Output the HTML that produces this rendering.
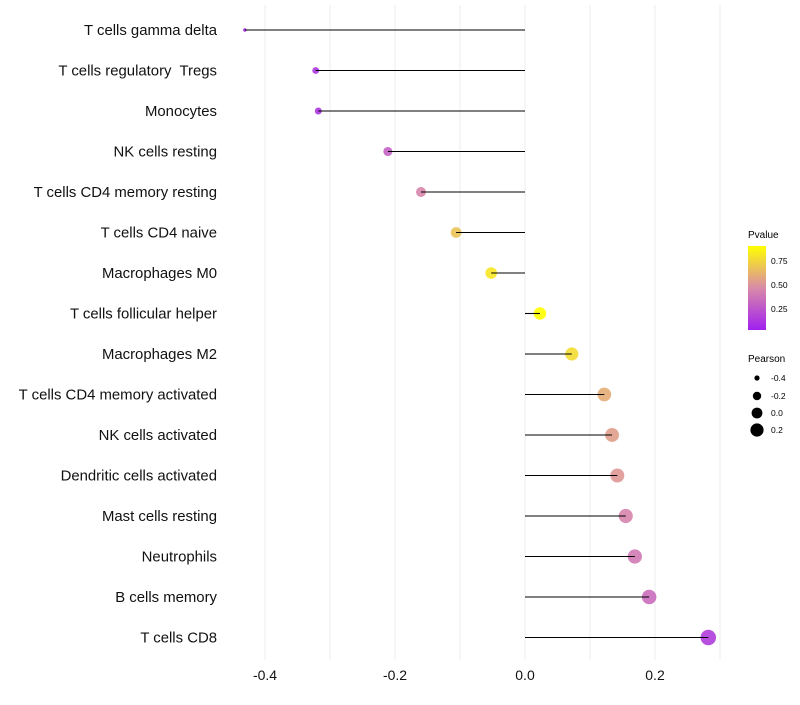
<!DOCTYPE html>
<html><head><meta charset="utf-8"><style>
body{margin:0;background:#fff;font-family:"Liberation Sans",sans-serif}
text{white-space:pre}
</style></head><body>
<svg id="chart" width="800" height="700" xmlns="http://www.w3.org/2000/svg">
<defs><linearGradient id="pg" x1="0" y1="1" x2="0" y2="0">
<stop offset="0" stop-color="#A020F0"/><stop offset="0.5" stop-color="#D98AA8"/><stop offset="1" stop-color="#FFFF00"/></linearGradient></defs>
<g id="grid"></g>
<g id="marks"></g>
<g id="ylab"></g>
<g id="xlab"></g>
<g font-size="10">
<text x="748" y="238">Pvalue</text>
<rect x="748" y="246" width="18" height="84" fill="url(#pg)"/>
<g font-size="8.5"><text x="771" y="264">0.75</text><text x="771" y="288">0.50</text><text x="771" y="312">0.25</text></g>
</g>
<g font-size="10">
<text x="748" y="362">Pearson</text>
<g font-size="8.5"><circle cx="757" cy="378" r="2.6"/><text x="771" y="381">-0.4</text>
<circle cx="757" cy="396" r="4.2"/><text x="771" y="399">-0.2</text>
<circle cx="757" cy="413" r="5.4"/><text x="771" y="416">0.0</text>
<circle cx="757" cy="430" r="6.6"/><text x="771" y="433">0.2</text></g>
</g>
</svg>
<script>
const cells=["T cells gamma delta","T cells regulatory  Tregs","Monocytes","NK cells resting","T cells CD4 memory resting","T cells CD4 naive","Macrophages M0","T cells follicular helper","Macrophages M2","T cells CD4 memory activated","NK cells activated","Dendritic cells activated","Mast cells resting","Neutrophils","B cells memory","T cells CD8"];
const pearson=[-0.431,-0.322,-0.318,-0.211,-0.160,-0.106,-0.052,0.023,0.072,0.122,0.134,0.142,0.155,0.169,0.191,0.282];
const pvalue=[0.05,0.12,0.12,0.3,0.45,0.68,0.82,0.91,0.78,0.6,0.55,0.52,0.45,0.4,0.35,0.15];
const xticks=[-0.4,-0.2,0.0,0.2];
const xs=v=>525+v*650, ys=i=>30+i*40.5;
const rs=v=>Math.sqrt(3+(v+0.431)*80);
const NS="http://www.w3.org/2000/svg";
function mk(t,a,p){const e=document.createElementNS(NS,t);for(const k in a)e.setAttribute(k,a[k]);p.appendChild(e);return e;}
function lerp(a,b,t){return a.map((v,i)=>Math.round(v+(b[i]-v)*t));}
function col(p){const t=Math.max(0,Math.min(1,(p-0.03)/0.88));const A=[160,32,240],M=[217,138,168],B=[255,255,0];
 const c=t<0.5?lerp(A,M,t*2):lerp(M,B,(t-0.5)*2);return `rgb(${c})`;}
const grid=document.getElementById('grid'),marks=document.getElementById('marks'),yl=document.getElementById('ylab'),xl=document.getElementById('xlab');
for(let v=-0.4;v<=0.31;v+=0.1){const g=mk('line',{x1:xs(v),x2:xs(v),y1:5,y2:660,stroke:'#ececec','stroke-width':1},grid);

}
xticks.forEach(v=>{const t=mk('text',{x:xs(v),y:680,'text-anchor':'middle','font-size':14,fill:'#111'},xl);t.textContent=v.toFixed(1);

});
cells.forEach((c,i)=>{const y=ys(i);
const t=mk('text',{x:217,y:y+5,'text-anchor':'end','font-size':14.9,fill:'#111'},yl);t.textContent=c;


const pt=mk('circle',{cx:xs(pearson[i]),cy:y,r:rs(pearson[i]),fill:col(pvalue[i]),opacity:0.9},marks);


const ln=mk('line',{x1:xs(0),x2:xs(pearson[i]),y1:y,y2:y,stroke:'#000','stroke-width':1.1},marks);

});
</script>
</body></html>
